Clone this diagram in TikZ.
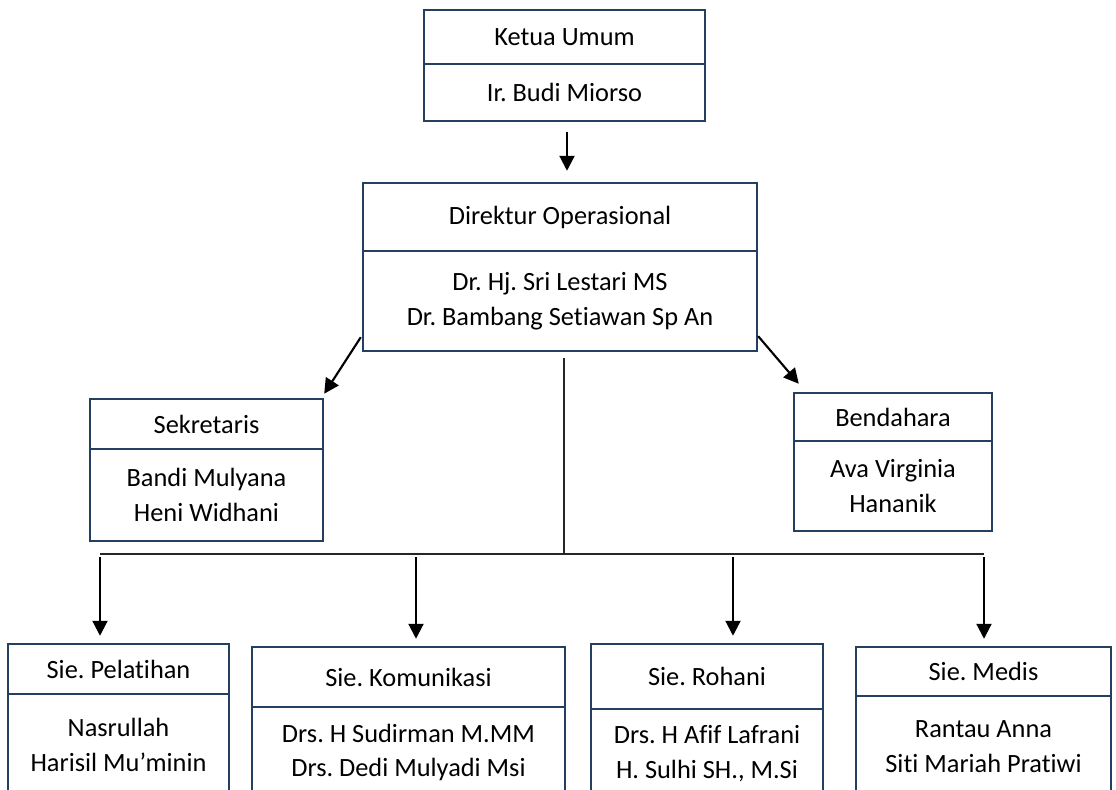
\documentclass[tikz,border=0pt]{standalone}
\usepackage{fontspec}
\setmainfont{Carlito}[Ligatures={NoCommon}]
\usepackage{xcolor}
\usetikzlibrary{arrows.meta, calc}
\definecolor{boxblue}{HTML}{243F60}
\frenchspacing

\begin{document}
\begin{tikzpicture}[
    x=0.02cm, y=0.02cm,
    box/.style={rectangle, draw=boxblue, line width=1.4pt, align=center, inner sep=0pt, font=\fontsize{15}{19.8}\selectfont},
    arrow/.style={-{Triangle[width=0.3cm, length=0.3cm]}, line width=1.2pt},
    bus/.style={line width=0.6pt, black!85}
]
    \useasboundingbox (0,0) rectangle (1116,790);
    \clip (0,0) rectangle (1116,790);

    % top
    \node [box, minimum width=5.62cm, minimum height=1.08cm] (ketua) at (564.5, 753) {Ketua Umum};
    \node [box, minimum width=5.62cm, minimum height=1.14cm] (ketuanama) at (564.5, 697.5) {Ir. Budi Miorso};

    \node [box, minimum width=7.88cm, minimum height=1.36cm] (direktur) at (560, 573) {Direktur Operasional};
    \node [box, minimum width=7.88cm, minimum height=2.0cm] (direkturnama) at (560, 489) {Dr. Hj. Sri Lestari MS\\Dr. Bambang Setiawan Sp An};

    % middle
    \node [box, minimum width=4.66cm, minimum height=1.0cm] (sekretaris) at (206.5, 366) {Sekretaris};
    \node [box, minimum width=4.66cm, minimum height=1.84cm] (sekretarisnama) at (206.5, 295) {Bandi Mulyana\\Heni Widhani};

    \node [box, minimum width=3.96cm, minimum height=0.96cm] (bendahara) at (893, 373) {Bendahara};
    \node [box, minimum width=3.96cm, minimum height=1.8cm] (bendaharanama) at (893, 304) {Ava Virginia\\Hananik};

    % bottom row
    \node [box, minimum width=4.42cm, minimum height=1.0cm] (pelatihan) at (118.5, 121) {Sie. Pelatihan};
    \node [box, minimum width=4.42cm, minimum height=2.04cm] (pelatihannama) at (118.5, 45) {Nasrullah\\Harisil Mu’minin};

    \node [box, minimum width=6.26cm, minimum height=1.2cm] (komunikasi) at (408.5, 113) {Sie. Komunikasi};
    \node [box, minimum width=6.26cm, minimum height=1.82cm] (komunikasinama) at (408.5, 37.5) {Drs. H Sudirman M.MM\\Drs. Dedi Mulyadi Msi};

    \node [box, minimum width=4.64cm, minimum height=1.3cm] (rohani) at (707, 113.5) {Sie. Rohani};
    \node [box, minimum width=4.64cm, minimum height=1.78cm] (rohaninama) at (707, 36.5) {Drs. H Afif Lafrani\\H. Sulhi SH., M.Si};

    \node [box, minimum width=5.1cm, minimum height=0.98cm] (medis) at (983.5, 118.5) {Sie. Medis};
    \node [box, minimum width=5.1cm, minimum height=2.04cm] (medisnama) at (983.5, 43) {Rantau Anna\\Siti Mariah Pratiwi};

    % connectors
    \draw [arrow, shorten <=0.2cm, shorten >=0.22cm] ([xshift=0.05cm]ketuanama.south) -- ([xshift=0.05cm]ketuanama.south |- direktur.north);
    \draw [arrow] ($(direkturnama.south west)+(-1,15)$) -- ($(sekretaris.north east)+(0,4)$);
    \draw [arrow] ($(direkturnama.south east)+(0,16)$) -- ($(bendahara.north west)+(6,8)$);

    \coordinate (bpelatihan) at (100, 236);
    \coordinate (bkomunikasi) at (416, 236);
    \coordinate (brohani) at (733, 236);
    \coordinate (bmedis) at (984, 236);
    \coordinate (mid) at ($(direkturnama.south)+(4,-6)$);

    \draw [bus] (mid) -- (mid |- bpelatihan);
    \draw [bus] (bpelatihan) -- (bmedis);
    \foreach \n in {pelatihan, komunikasi, rohani, medis}
        \draw [arrow, shorten <=0.06cm, shorten >=0.14cm] (b\n) -- (b\n |- \n.north);
\end{tikzpicture}
\end{document}
